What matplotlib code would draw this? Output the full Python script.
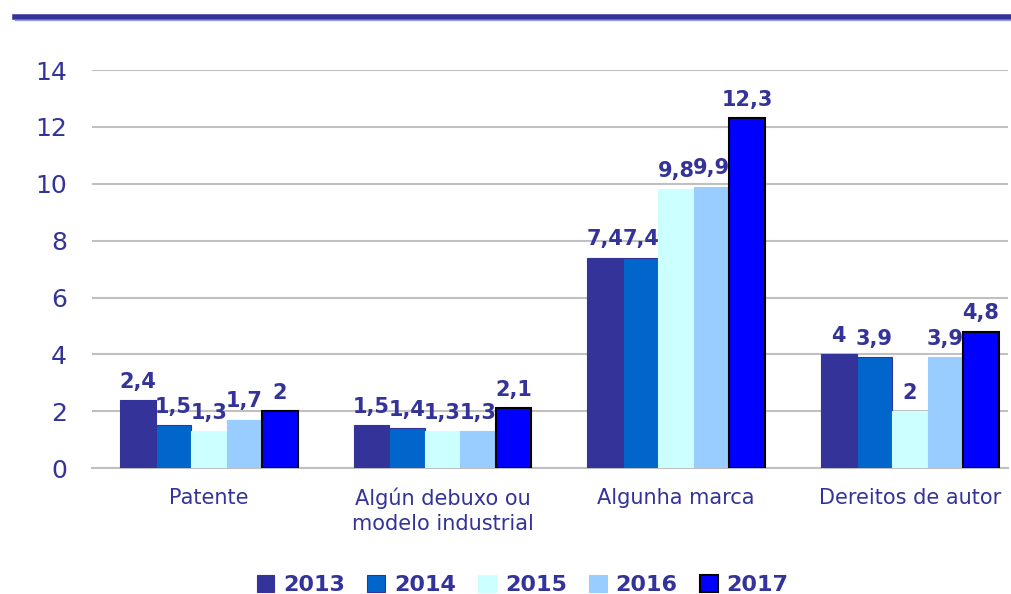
import numpy as np
import matplotlib
matplotlib.use('Agg')
import matplotlib.pyplot as plt
from matplotlib.lines import Line2D

categories = ['Patente', 'Algún debuxo ou\nmodelo industrial', 'Algunha marca', 'Dereitos de autor']
years = ['2013', '2014', '2015', '2016', '2017']
v2013 = [2.4, 1.5, 7.4, 4.0]
v2014 = [1.5, 1.4, 7.4, 3.9]
v2015 = [1.3, 1.3, 9.8, 2.0]
v2016 = [1.7, 1.3, 9.9, 3.9]
v2017 = [2.0, 2.1, 12.3, 4.8]
series = [v2013, v2014, v2015, v2016, v2017]

colors = ['#333399', '#0066CC', '#CCFFFF', '#99CCFF', '#0000FF']
edges = ['#333399', '#333399', '#CCFFFF', '#99CCFF', 'black']
navy = '#333399'

fig = plt.figure(figsize=(10.11, 5.94), dpi=100)
ax = fig.add_axes([0.091, 0.212, 0.906, 0.67])

x = np.arange(len(categories))
w = 0.152
for i, vals in enumerate(series):
    pos = x + (i - 2) * w
    bars = ax.bar(pos, vals, w, color=colors[i], edgecolor=edges[i],
                  linewidth=1.5 if i == 4 else 0.8, label=years[i], zorder=3)
    for b, v in zip(bars, vals):
        txt = ('%g' % v).replace('.', ',')
        ax.annotate(txt, (b.get_x() + b.get_width() / 2, v), xytext=(0, 6),
                    textcoords='offset points', ha='center', va='bottom',
                    fontsize=15, fontweight='bold', color=navy)

ax.set_xlim(-0.5, 3.42)
ax.set_ylim(0, 14)
ax.set_yticks(range(0, 15, 2))
ax.set_xticks(x)
ax.set_xticklabels(categories, fontsize=15, color=navy, linespacing=1.3)
ax.tick_params(axis='y', labelsize=18, labelcolor=navy, length=0, pad=18)
ax.tick_params(axis='x', length=0, pad=14)
ax.yaxis.grid(True, color='#C0C0C0', linewidth=1.5, zorder=0)
for s in ['top', 'right', 'left']:
    ax.spines[s].set_visible(False)
ax.spines['bottom'].set_color('#C0C0C0')
ax.spines['bottom'].set_linewidth(1.5)

leg = ax.legend(loc='lower center', bbox_to_anchor=(0.5 - 0.03, -0.37), ncol=5,
                frameon=False, handlelength=0.8, handleheight=0.8,
                handletextpad=0.4, columnspacing=1.0,
                prop={'size': 16, 'weight': 'bold'})
for t in leg.get_texts():
    t.set_color(navy)

# header band
fig.add_artist(Line2D([0.015, 1.0], [1 - 16.5 / 594, 1 - 16.5 / 594],
                      color='#333399', linewidth=4, transform=fig.transFigure))
fig.add_artist(Line2D([0.015, 1.0], [1 - 19.5 / 594, 1 - 19.5 / 594],
                      color='#9999DD', linewidth=1, transform=fig.transFigure))

fig.savefig('out.png', dpi=100)
